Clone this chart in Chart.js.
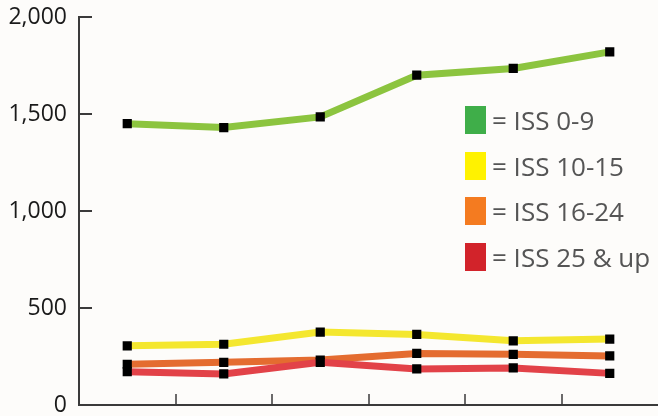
<!DOCTYPE html>
<html>
<head>
<meta charset="utf-8">
<script src="https://cdn.jsdelivr.net/npm/chart.js@4.4.1/dist/chart.umd.min.js"></script>
<style>
  html, body { margin: 0; padding: 0; background: #fdfcfa; }
  #wrap { position: relative; width: 658px; height: 416px; }
  #legend { position: absolute; left: 465px; top: 106px; font-family: "Open Sans", sans-serif; }
  .row { display: flex; align-items: center; height: 28px; margin-bottom: 17.7px; }
  .box { width: 21px; height: 28px; margin-right: 6px; }
  .txt { font-size: 26px; color: #555555; line-height: 28px; white-space: nowrap; }
</style>
</head>
<body>
<div id="wrap">
  <canvas id="issChart" width="658" height="416"></canvas>
  <div id="legend"></div>
</div>
<script>
const years = ["2010", "2011", "2012", "2013", "2014", "2015"];
const iss0to9 = [1450, 1430, 1485, 1700, 1735, 1820];
const iss10to15 = [305, 313, 376, 364, 331, 340];
const iss16to24 = [210, 220, 232, 266, 261, 253];
const iss25up = [172, 160, 220, 186, 191, 163];
const yTicks = [0, 500, 1000, 1500, 2000];

const seriesNames = ["= ISS 0-9", "= ISS 10-15", "= ISS 16-24", "= ISS 25 & up"];
const lineColors = ["#8cc43f", "#f4e72f", "#e46c30", "#e24248"];
const keyColors = ["#3fae49", "#fff200", "#f47b20", "#d2232a"];

const axisColor = "#3a3a3a";

// short tick marks drawn inward from both axes
const innerTicks = {
  id: "innerTicks",
  afterDraw(chart) {
    const ctx = chart.ctx;
    const area = chart.chartArea;
    const x = chart.scales.x;
    const y = chart.scales.y;
    ctx.save();
    ctx.strokeStyle = axisColor;
    ctx.lineWidth = 2;
    yTicks.forEach((v) => {
      const py = Math.round(y.getPixelForValue(v));
      ctx.beginPath();
      ctx.moveTo(area.left, py);
      ctx.lineTo(area.left + 13, py);
      ctx.stroke();
    });
    ctx.lineWidth = 1.5;
    for (let i = 0; i < years.length - 1; i++) {
      const px = Math.round((x.getPixelForValue(i) + x.getPixelForValue(i + 1)) / 2);
      ctx.beginPath();
      ctx.moveTo(px, area.bottom);
      ctx.lineTo(px, area.bottom - 11);
      ctx.stroke();
    }
    ctx.restore();
  },
};

function makeSet(label, data, i, order) {
  return {
    label: label,
    data: data,
    borderColor: lineColors[i],
    borderWidth: 7,
    tension: 0,
    pointStyle: "rect",
    pointRadius: 6.5,
    pointHoverRadius: 6.5,
    pointBackgroundColor: "#000000",
    pointBorderWidth: 0,
    order: order,
  };
}

new Chart(document.getElementById("issChart"), {
  type: "line",
  data: {
    labels: years,
    datasets: [
      makeSet(seriesNames[0], iss0to9, 0, 4),
      makeSet(seriesNames[1], iss10to15, 1, 3),
      makeSet(seriesNames[2], iss16to24, 2, 2),
      makeSet(seriesNames[3], iss25up, 3, 1),
    ],
  },
  options: {
    responsive: false,
    animation: false,
    layout: { autoPadding: false, padding: { top: 17, right: 0, bottom: 0, left: 0 } },
    plugins: {
      legend: { display: false },
      tooltip: { enabled: false },
    },
    scales: {
      x: {
        offset: true,
        grid: { display: false, drawTicks: false },
        border: { display: true, color: axisColor, width: 2 },
        ticks: { display: false },
        afterFit(scale) {
          scale.height = 11;
          scale.paddingLeft = 0;
          scale.paddingRight = 0;
        },
      },
      y: {
        min: 0,
        max: 2000,
        afterBuildTicks(scale) {
          scale.ticks = yTicks.map((v) => ({ value: v }));
        },
        grid: { display: false, drawTicks: false },
        border: { display: true, color: axisColor, width: 2 },
        ticks: {
          padding: 12,
          color: "#1a1a1a",
          font: { family: "'Open Sans', sans-serif", size: 23 },
          callback: (v) => v.toLocaleString("en-US"),
        },
        afterFit(scale) {
          scale.width = 79;
          scale.paddingTop = 0;
          scale.paddingBottom = 0;
        },
      },
    },
  },
  plugins: [innerTicks],
});

const legend = document.getElementById("legend");
seriesNames.forEach((name, i) => {
  const row = document.createElement("div");
  row.className = "row";
  const box = document.createElement("div");
  box.className = "box";
  box.style.background = keyColors[i];
  const txt = document.createElement("span");
  txt.className = "txt";
  txt.textContent = name;
  row.appendChild(box);
  row.appendChild(txt);
  legend.appendChild(row);
});
</script>
</body>
</html>
